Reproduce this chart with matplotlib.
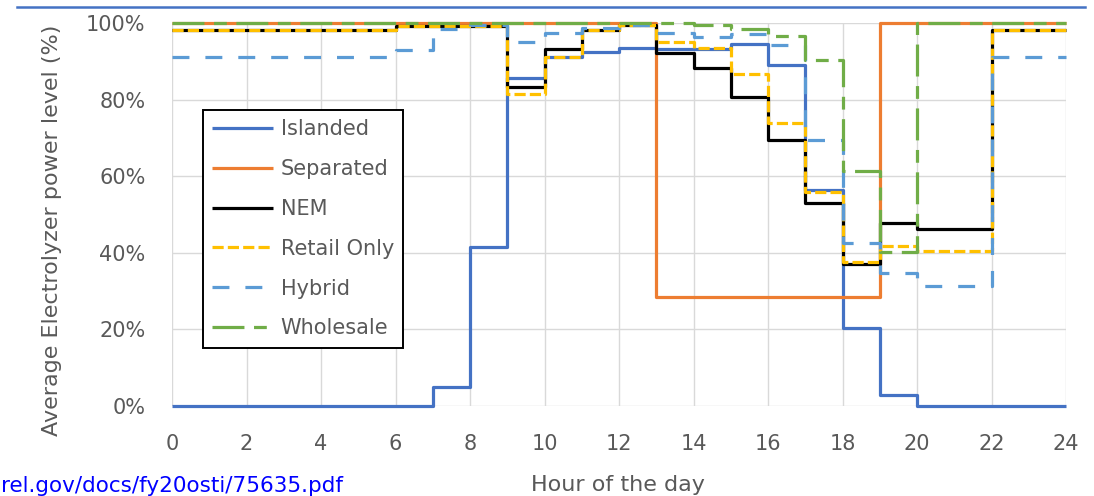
import numpy as np
import matplotlib
matplotlib.use("Agg")
import matplotlib.pyplot as plt
from matplotlib.lines import Line2D
from matplotlib.ticker import FuncFormatter, MultipleLocator

# Hourly average electrolyzer power level (%) for each hour 0..23
hours = np.arange(0, 25)
islanded = [0, 0, 0, 0, 0, 0, 0, 5, 41.5, 85.6, 91.0, 92.4, 93.6, 93.1, 93.1, 94.4,
            89.0, 56.5, 20.4, 3.0, 0, 0, 0, 0]
separated = [100] * 13 + [28.5] * 6 + [100] * 5
nem = [98.2] * 6 + [99.3] * 3 + [83.3, 93.1, 98.2, 99.5, 92.1, 88.2, 80.8, 69.5,
                                 53.0, 37.0, 47.7, 46.1, 46.1, 98.2, 98.2]
retail_only = [98.2] * 6 + [99.3] * 3 + [81.5, 91.2, 98.2, 99.5, 95.0, 93.6, 86.8,
                                         73.8, 56.0, 37.7, 41.8, 40.6, 40.6, 98.2, 98.2]
hybrid = [91.2] * 6 + [93.0, 98.5, 99.5, 95.1, 97.5, 98.6, 99.5, 97.3, 96.4, 97.1,
                       94.3, 69.5, 42.6, 34.8, 31.3, 31.3, 91.2, 91.2]
wholesale = [100] * 14 + [99.5, 98.5, 96.5, 90.3, 61.4, 40.3, 100, 100, 100, 100]

series = [
    ("Islanded", islanded, "#4472C4", "-"),
    ("Separated", separated, "#ED7D31", "-"),
    ("NEM", nem, "#000000", "-"),
    ("Retail Only", retail_only, "#FFC000", (0, (3.5, 1.3))),
    ("Hybrid", hybrid, "#5B9BD5", (0, (5.3, 5.0))),
    ("Wholesale", wholesale, "#70AD47", (0, (10, 3, 4, 3))),
]

TXT = "#595959"
plt.rcParams["font.family"] = ["DejaVu Sans"]

W, H = 1094, 496
fig = plt.figure(figsize=(W / 100, H / 100), dpi=100)
ax = fig.add_axes([172 / W, (H - 406) / H, (1066 - 172) / W, (406 - 23) / H])

for name, vals, color, ls in series:
    y = np.append(vals, vals[-1])
    ax.step(hours, y, where="post", color=color, lw=2.3, linestyle=ls,
            label=name, clip_on=False, solid_capstyle="butt",
            dash_capstyle="butt")

ax.set_xlim(0, 24)
ax.set_ylim(0, 100)
ax.xaxis.set_major_locator(MultipleLocator(2))
ax.yaxis.set_major_locator(MultipleLocator(20))
ax.yaxis.set_major_formatter(FuncFormatter(lambda v, p: f"{v:.0f}%"))
ax.grid(True, color="#D9D9D9", lw=1.0)
ax.set_axisbelow(True)
for s in ax.spines.values():
    s.set_visible(False)
ax.tick_params(length=0, labelsize=15, labelcolor=TXT)
ax.tick_params(axis="y", pad=19)
ax.tick_params(axis="x", pad=20)

ax.set_ylabel("Average Electrolyzer power level (%)", fontsize=16, color=TXT)
ax.yaxis.set_label_coords(-0.123, 0.46)
ax.set_xlabel("Hour of the day", fontsize=16, color=TXT)
ax.xaxis.set_label_coords(0.499, -0.18)

leg = ax.legend(loc="upper left", bbox_to_anchor=(203 / W, 1 - 110 / H),
                bbox_transform=fig.transFigure, borderaxespad=0,
                fontsize=15, handlelength=2.9, handletextpad=0.38,
                labelspacing=0.95, borderpad=0.45, fancybox=False,
                framealpha=1, edgecolor="black")
leg.get_frame().set_linewidth(1.4)
for t in leg.get_texts():
    t.set_color(TXT)

# header rule and source link
fig.add_artist(Line2D([17 / W, 1085 / W], [1 - 7 / H] * 2, color="#4472C4", lw=1.8))
fig.text(1 / W, 1 - 492 / H, "rel.gov/docs/fy20osti/75635.pdf", ha="left",
         va="baseline", fontsize=15.5, color="#0000FF")

fig.savefig("out.png", dpi=100)
